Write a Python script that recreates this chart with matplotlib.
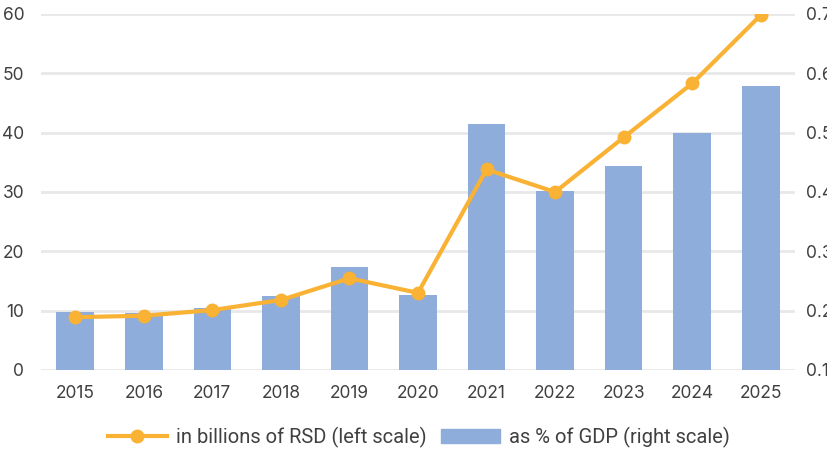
import numpy as np
import matplotlib.pyplot as plt
from matplotlib.patches import Patch
from matplotlib.lines import Line2D

# Datos
years = ["2015", "2016", "2017", "2018", "2019", "2020",
         "2021", "2022", "2023", "2024", "2025"]
rsd_billions = [8.9, 9.15, 10.1, 11.8, 15.45, 13.0, 33.8, 30.0, 39.2, 48.3, 59.8]
pct_gdp = [0.198, 0.196, 0.205, 0.224, 0.274, 0.226, 0.515, 0.402, 0.444, 0.500, 0.579]

bar_color = "#8EADDB"
line_color = "#F9B233"
text_color = "#404040"
grid_color = "#E8E8E8"

plt.rcParams["font.family"] = ["Inter", "DejaVu Sans"]

fig = plt.figure(figsize=(8.27, 4.5), dpi=100)
ax = fig.add_axes([41 / 827, 1 - 370 / 450, 754 / 827, 356 / 450])
ax2 = ax.twinx()

x = np.arange(len(years))

# Barras en el eje derecho, con la rejilla por debajo
ax2.bar(x, pct_gdp, width=0.55, color=bar_color, zorder=2)
ax2.set_ylim(0.1, 0.7)
ax2.set_yticks(np.arange(0.1, 0.71, 0.1))
ax2.set_yticklabels([f"{v:.1f}" for v in np.arange(0.1, 0.71, 0.1)])
ax2.grid(axis="y", color=grid_color, linewidth=2)
ax2.set_axisbelow(True)

# Línea en el eje izquierdo, dibujada encima
ax.set_zorder(ax2.get_zorder() + 1)
ax.patch.set_visible(False)
ax.plot(x, rsd_billions, color=line_color, linewidth=3,
        marker="o", markersize=9, zorder=3)
ax.set_ylim(0, 60)
ax.set_yticks(range(0, 61, 10))
ax.set_xlim(-0.5, len(years) - 0.5)
ax.set_xticks(x)
ax.set_xticklabels(years)

for a in (ax, ax2):
    for s in a.spines.values():
        s.set_visible(False)
    a.tick_params(length=0, labelsize=12.5, labelcolor=text_color)
ax.tick_params(axis="y", pad=12)
ax.tick_params(axis="x", pad=11)
ax2.tick_params(axis="y", pad=8)

handles = [
    Line2D([], [], color=line_color, linewidth=3, marker="o", markersize=9),
    Patch(color=bar_color),
]
labels = ["in billions of RSD (left scale)", "as % of GDP (right scale)"]
fig.legend(handles, labels, loc="center", bbox_to_anchor=(419 / 827, 1 - 437 / 450),
           ncol=2, frameon=False, handlelength=2.9, handletextpad=0.45,
           columnspacing=0.75,
           prop={"family": ["Roboto", "DejaVu Sans"], "size": 14.5},
           labelcolor=text_color)

fig.savefig("out.png", dpi=100)
